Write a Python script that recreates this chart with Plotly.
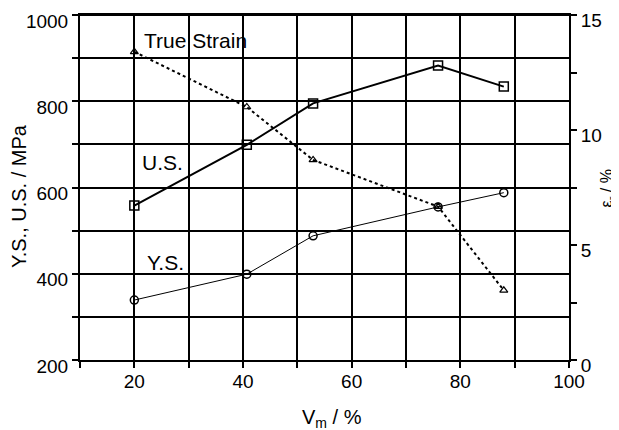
import plotly.graph_objects as go

vm = [20, 40.7, 52.9, 75.9, 88]
us = [558, 699, 795, 883, 834]
ys = [339, 399, 488, 555, 588]
strain = [13.4, 11.0, 8.7, 6.67, 3.03]

x_ticks = [10, 20, 30, 40, 50, 60, 70, 80, 90, 100]
x_text = ["", "20", "", "40", "", "60", "", "80", "", "100"]
y_ticks = [200, 300, 400, 500, 600, 700, 800, 900, 1000]
y_text = ["200", "", "400", "", "600", "", "800", "", "1000"]
y2_ticks = [0, 2.5, 5, 7.5, 10, 12.5, 15]
y2_text = ["0", "", "5", "", "10", "", "15"]

FONT = "Liberation Sans, Arial, sans-serif"

# page body has an 8px margin; figure is sized/placed to compensate
W, H = 611, 422
L, R, T, B = 72, 49.5, 7, 70
OFF = 8

fig = go.Figure()
fig.add_trace(go.Scatter(x=vm, y=us, mode="lines+markers",
                         line=dict(color="black", width=2),
                         marker=dict(symbol="square-open", size=9, color="black", line=dict(width=1.5)),
                         showlegend=False, cliponaxis=False))
fig.add_trace(go.Scatter(x=vm, y=ys, mode="lines+markers",
                         line=dict(color="black", width=1),
                         marker=dict(symbol="circle-open", size=8, color="black", line=dict(width=1.5)),
                         showlegend=False, cliponaxis=False))
fig.add_trace(go.Scatter(x=vm, y=strain, mode="lines+markers", yaxis="y2",
                         line=dict(color="black", width=2, dash="dot"),
                         marker=dict(symbol="triangle-up-open", size=7, color="black", line=dict(width=1.2)),
                         showlegend=False, cliponaxis=False))

axis_common = dict(showline=True, linecolor="black", linewidth=2, automargin=False,
                   ticks="outside", ticklen=6, tickwidth=1.5, tickcolor="black",
                   ticklabeloverflow="allow",
                   tickfont=dict(family=FONT, size=19, color="black"), zeroline=False)

fig.update_layout(
    width=W, height=H,
    margin=dict(l=L, r=R, t=T, b=B, autoexpand=False),
    plot_bgcolor="white", paper_bgcolor="white",
    xaxis=dict(range=[10, 100], tickmode="array", tickvals=x_ticks, ticktext=x_text,
               showgrid=True, gridcolor="black", gridwidth=1.5, mirror=True,
               ticklabelstandoff=-3, **axis_common),
    yaxis=dict(range=[200, 1000], tickmode="array", tickvals=y_ticks, ticktext=y_text,
               showgrid=True, gridcolor="black", gridwidth=1.5, ticklabelshift=6, **axis_common),
    yaxis2=dict(range=[0, 15], overlaying="y", side="right", tickmode="array",
                tickvals=y2_ticks, ticktext=y2_text, showgrid=False, ticklabelshift=5,
                **axis_common),
    shapes=[dict(type="line", xref="paper", yref="paper", x0=0, x1=1, y0=1, y1=1,
                 line=dict(color="black", width=2))],
    annotations=[
        dict(x=31.3, y=940, xref="x", yref="y", text="True Strain", showarrow=False,
             xanchor="center", yanchor="middle",
             font=dict(family=FONT, size=21, color="black")),
        dict(x=25.1, y=659, xref="x", yref="y", text="U.S.", showarrow=False,
             xanchor="center", yanchor="middle",
             font=dict(family=FONT, size=21, color="black")),
        dict(x=25.8, y=427, xref="x", yref="y", text="Y.S.", showarrow=False,
             xanchor="center", yanchor="middle",
             font=dict(family=FONT, size=21, color="black")),
        dict(x=19, y=196, xref="paper", yref="paper", xanchor="center", yanchor="middle",
             text="Y.S., U.S. / MPa", textangle=-90, showarrow=False,
             font=dict(family=FONT, size=20, color="black")),
        dict(x=608, y=188, xref="paper", yref="paper", xanchor="center", yanchor="middle",
             text="ε<sub>r</sub> / %", textangle=-90,
             showarrow=False, font=dict(family=FONT, size=16, color="black")),
        dict(x=332, y=418, xref="paper", yref="paper", xanchor="center", yanchor="middle",
             text="V<sub>m</sub> / %",
             showarrow=False, font=dict(family=FONT, size=20, color="black")),
    ],
)

# convert screen-pixel positions of paper annotations to paper fractions
pw, ph = W - L - R, H - T - B
for a in fig.layout.annotations:
    if a.xref == "paper":
        a.x = (a.x - OFF - L) / pw
        a.y = 1 - (a.y - OFF - T) / ph

fig.write_html("out.html")
